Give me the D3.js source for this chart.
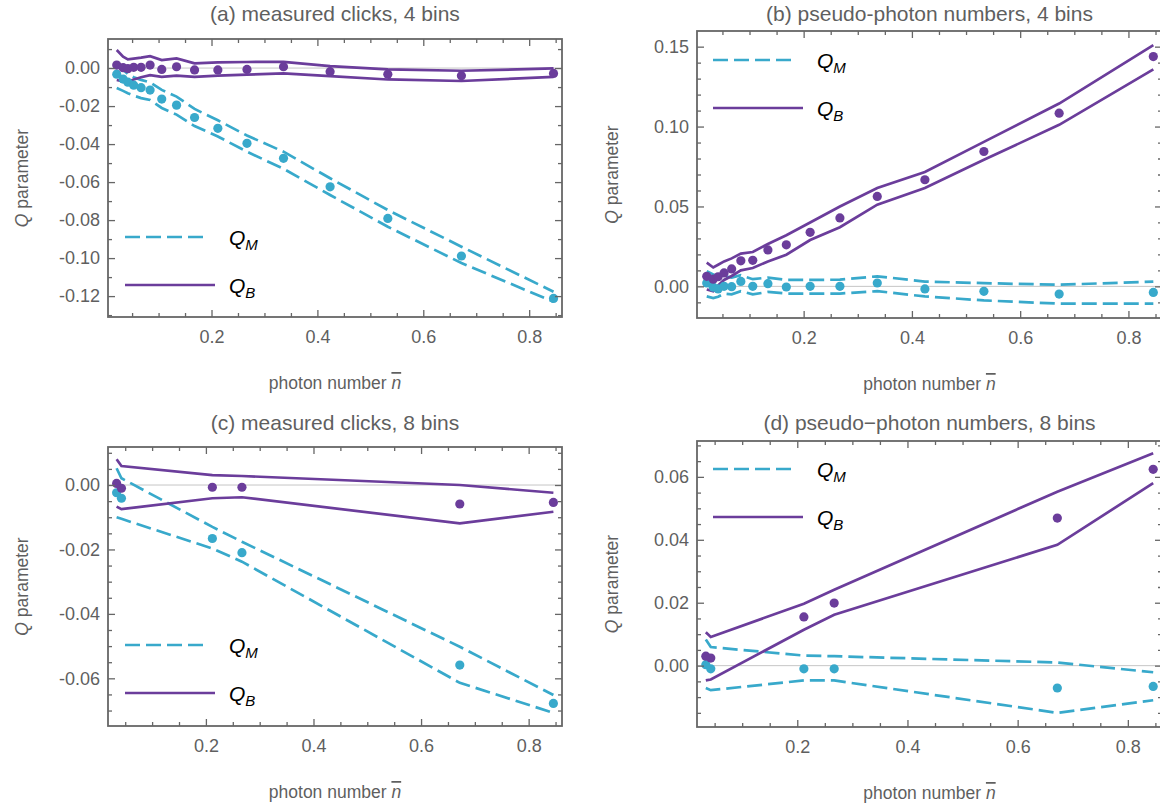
<!DOCTYPE html>
<html>
<head>
<meta charset="utf-8">
<script src="https://cdn.jsdelivr.net/npm/d3@7"></script>
<style>
body { margin: 0; background: #fff; }
svg { display: block; font-family: "Liberation Sans", Arial, sans-serif; }
</style>
</head>
<body>
<div id="chart-area"></div>
<script>
// mean photon numbers of the data sets
const xs4 = [0.021, 0.033, 0.042, 0.053, 0.067, 0.084, 0.106, 0.134, 0.168, 0.212, 0.267, 0.336, 0.424, 0.533, 0.672, 0.846];
const xs8 = [0.034, 0.043, 0.212, 0.267, 0.672, 0.846];

// (a) measured clicks, 4 bins
const qmA   = [-0.0032, -0.0058, -0.0074, -0.0090, -0.0103, -0.0116, -0.0163, -0.0195, -0.0260, -0.0317, -0.0396, -0.0475, -0.0625, -0.0791, -0.0989, -0.1212];
const qmAHi = [0.0025, -0.0010, -0.0030, -0.0048, -0.0062, -0.0075, -0.0115, -0.0150, -0.0215, -0.0275, -0.0355, -0.0440, -0.0580, -0.0747, -0.0940, -0.1177];
const qmALo = [-0.0105, -0.0120, -0.0132, -0.0145, -0.0158, -0.0168, -0.0210, -0.0245, -0.0305, -0.0360, -0.0440, -0.0530, -0.0668, -0.0835, -0.1026, -0.1230];
const qbA   = [0.0016, 0.0002, -0.0003, 0.0004, 0.0004, 0.0016, -0.0007, 0.0007, -0.0010, -0.0010, -0.0007, 0.0007, -0.0019, -0.0032, -0.0040, -0.0028];
const qbAHi = [0.0095, 0.0060, 0.0046, 0.0050, 0.0055, 0.0063, 0.0042, 0.0051, 0.0025, 0.0030, 0.0032, 0.0033, 0.0010, -0.0007, -0.0014, -0.0002];
const qbALo = [-0.0063, -0.0070, -0.0072, -0.0060, -0.0048, -0.0037, -0.0046, -0.0040, -0.0046, -0.0040, -0.0035, -0.0028, -0.0042, -0.0060, -0.0068, -0.0046];

// (b) pseudo-photon numbers, 4 bins
const qmB   = [0.0021, -0.0005, -0.0016, 0.0000, -0.0002, 0.0031, 0.0000, 0.0017, -0.0004, 0.0000, 0.0000, 0.0021, -0.0016, -0.0031, -0.0048, -0.0038];
const qmBHi = [0.0094, 0.0075, 0.0060, 0.0063, 0.0055, 0.0070, 0.0045, 0.0055, 0.0040, 0.0040, 0.0042, 0.0063, 0.0030, 0.0020, 0.0010, 0.0030];
const qmBLo = [-0.0063, -0.0073, -0.0065, -0.0045, -0.0050, -0.0030, -0.0050, -0.0035, -0.0045, -0.0045, -0.0045, -0.0030, -0.0063, -0.0088, -0.0108, -0.0108];
const qbB   = [0.0063, 0.0045, 0.0060, 0.0084, 0.0109, 0.0160, 0.0163, 0.0228, 0.0260, 0.0338, 0.0428, 0.0563, 0.0667, 0.0844, 0.1084, 0.1438];
const qbBHi = [0.0148, 0.0118, 0.0135, 0.0156, 0.0175, 0.0205, 0.0215, 0.0265, 0.0320, 0.0400, 0.0500, 0.0615, 0.0716, 0.0904, 0.1144, 0.1510];
const qbBLo = [-0.0020, -0.0030, 0.0005, 0.0040, 0.0065, 0.0100, 0.0115, 0.0156, 0.0198, 0.0290, 0.0370, 0.0511, 0.0615, 0.0792, 0.1011, 0.1358];

// (c) measured clicks, 8 bins
const qmC   = [-0.0024, -0.0041, -0.0166, -0.0210, -0.0559, -0.0678];
const qmCHi = [0.0052, 0.0021, -0.0130, -0.0176, -0.0502, -0.0652];
const qmCLo = [-0.0100, -0.0105, -0.0197, -0.0238, -0.0614, -0.0707];
const qbC   = [0.0005, -0.0010, -0.0007, -0.0007, -0.0059, -0.0054];
const qbCHi = [0.0080, 0.0059, 0.0031, 0.0028, 0.0000, -0.0024];
const qbCLo = [-0.0067, -0.0075, -0.0041, -0.0038, -0.0119, -0.0083];

// (d) pseudo-photon numbers, 8 bins
const qmD   = [0.0003, -0.0010, -0.0010, -0.0010, -0.0071, -0.0066];
const qmDHi = [0.0083, 0.0059, 0.0032, 0.0030, 0.0010, -0.0021];
const qmDLo = [-0.0071, -0.0078, -0.0047, -0.0047, -0.0150, -0.0110];
const qbD   = [0.0030, 0.0024, 0.0155, 0.0199, 0.0469, 0.0624];
const qbDHi = [0.0106, 0.0091, 0.0197, 0.0241, 0.0553, 0.0675];
const qbDLo = [-0.0047, -0.0044, 0.0114, 0.0162, 0.0384, 0.0580];

const titles = ["(a) measured clicks, 4 bins", "(b) pseudo-photon numbers, 4 bins",
                "(c) measured clicks, 8 bins", "(d) pseudo\u2212photon numbers, 8 bins"];
const xTicks = [0.2, 0.4, 0.6, 0.8];
const yTicksA = [-0.12, -0.10, -0.08, -0.06, -0.04, -0.02, 0.00];
const yTicksB = [0.00, 0.05, 0.10, 0.15];
const yTicksC = [-0.06, -0.04, -0.02, 0.00];
const yTicksD = [0.00, 0.02, 0.04, 0.06];

const cyan = "#38a9cb";
const purple = "#6b3d9b";
const grey = "#5f5f5f";
const frameGrey = "#666";

const svg = d3.select("#chart-area")
	.append("svg")
	.attr("width", 1160)
	.attr("height", 806);

svg.append("rect").attr("width", 1160).attr("height", 806).attr("fill", "#fff");

const panels = [
	{ id: "a", title: titles[0], box: { left: 108, right: 562, top: 39, bottom: 317 }, titleY: 21,
	  xDom: [0.0045, 0.862], yDom: [-0.131, 0.0153], yTicks: yTicksA, yMinor: 0.01,
	  xs: xs4, qm: qmA, qmHi: qmAHi, qmLo: qmALo, qb: qbA, qbHi: qbAHi, qbLo: qbALo,
	  legend: { x: 125, y: 237 }, yLabelX: 28 },
	{ id: "b", title: titles[1], box: { left: 697, right: 1162, top: 31, bottom: 318 }, titleY: 21,
	  xDom: [0.003, 0.862], yDom: [-0.0198, 0.1598], yTicks: yTicksB, yMinor: 0.01,
	  xs: xs4, qm: qmB, qmHi: qmBHi, qmLo: qmBLo, qb: qbB, qbHi: qbBHi, qbLo: qbBLo,
	  legend: { x: 713, y: 60 }, yLabelX: 618 },
	{ id: "c", title: titles[2], box: { left: 108, right: 562, top: 447, bottom: 726 }, titleY: 430,
	  xDom: [0.018, 0.862], yDom: [-0.0748, 0.0118], yTicks: yTicksC, yMinor: 0.005,
	  xs: xs8, qm: qmC, qmHi: qmCHi, qmLo: qmCLo, qb: qbC, qbHi: qbCHi, qbLo: qbCLo,
	  legend: { x: 125, y: 645 }, yLabelX: 28 },
	{ id: "d", title: titles[3], box: { left: 697, right: 1162, top: 441, bottom: 727 }, titleY: 430,
	  xDom: [0.018, 0.862], yDom: [-0.0195, 0.0714], yTicks: yTicksD, yMinor: 0.005,
	  xs: xs8, qm: qmD, qmHi: qmDHi, qmLo: qmDLo, qb: qbD, qbHi: qbDHi, qbLo: qbDLo,
	  legend: { x: 713, y: 469 }, yLabelX: 618 }
];

const yFmt = d => d3.format(".2f")(d).replace("\u2212", "-");

function minorTicks(dom, step, majors) {
	const out = [];
	for (let k = Math.ceil(dom[0] / step); k <= Math.floor(dom[1] / step); k++) {
		const v = +(k * step).toFixed(4);
		if (!majors.some(m => Math.abs(m - v) < 1e-9)) out.push(v);
	}
	return out;
}

function styleAxis(sel) {
	sel.select(".domain").remove();
	sel.selectAll(".tick line")
		.attr("stroke", frameGrey)
		.attr("stroke-width", 1.3);
	sel.selectAll(".tick text")
		.attr("fill", grey)
		.attr("font-size", "18px")
		.attr("font-family", "Liberation Sans, Arial, sans-serif");
}

panels.forEach(p => {
	const { left, right, top, bottom } = p.box;
	const x = d3.scaleLinear().domain(p.xDom).range([left, right]);
	const y = d3.scaleLinear().domain(p.yDom).range([bottom, top]);
	const g = svg.append("g").attr("class", "panel-" + p.id);

	svg.append("clipPath").attr("id", "clip-" + p.id)
		.append("rect")
		.attr("x", left).attr("y", top)
		.attr("width", right - left).attr("height", bottom - top);

	// zero axis line
	g.append("line")
		.attr("x1", left).attr("x2", right)
		.attr("y1", y(0)).attr("y2", y(0))
		.attr("stroke", "#c6c6c6")
		.attr("stroke-width", 1);

	const plot = g.append("g").attr("clip-path", `url(#clip-${p.id})`);
	const line = d3.line().x((d, i) => x(p.xs[i])).y(d => y(d));

	[p.qmHi, p.qmLo].forEach(arr => {
		plot.append("path")
			.attr("d", line(arr))
			.attr("fill", "none")
			.attr("stroke", cyan)
			.attr("stroke-width", 2.7)
			.attr("stroke-dasharray", "15,6");
	});
	[p.qbHi, p.qbLo].forEach(arr => {
		plot.append("path")
			.attr("d", line(arr))
			.attr("fill", "none")
			.attr("stroke", purple)
			.attr("stroke-width", 2.7);
	});

	plot.selectAll(".dot-m").data(p.qm).enter()
		.append("circle")
		.attr("cx", (d, i) => x(p.xs[i]))
		.attr("cy", d => y(d))
		.attr("r", 4.6)
		.attr("fill", cyan);
	plot.selectAll(".dot-b").data(p.qb).enter()
		.append("circle")
		.attr("cx", (d, i) => x(p.xs[i]))
		.attr("cy", d => y(d))
		.attr("r", 4.6)
		.attr("fill", purple);

	// frame ticks
	const xMinor = minorTicks(p.xDom, 0.05, xTicks);
	const yMinor = minorTicks(p.yDom, p.yMinor, p.yTicks);

	g.append("g").attr("transform", `translate(0,${bottom})`)
		.call(d3.axisBottom(x).tickValues(xTicks).tickSize(-7).tickPadding(13).tickFormat(d3.format(".1f")))
		.call(styleAxis);
	g.append("g").attr("transform", `translate(0,${bottom})`)
		.call(d3.axisBottom(x).tickValues(xMinor).tickSize(-4).tickFormat(""))
		.call(styleAxis);
	g.append("g").attr("transform", `translate(0,${top})`)
		.call(d3.axisTop(x).tickValues(xTicks).tickSize(-7).tickFormat(""))
		.call(styleAxis);
	g.append("g").attr("transform", `translate(0,${top})`)
		.call(d3.axisTop(x).tickValues(xMinor).tickSize(-4).tickFormat(""))
		.call(styleAxis);
	g.append("g").attr("transform", `translate(${left},0)`)
		.call(d3.axisLeft(y).tickValues(p.yTicks).tickSize(-7).tickPadding(8).tickFormat(yFmt))
		.call(styleAxis);
	g.append("g").attr("transform", `translate(${left},0)`)
		.call(d3.axisLeft(y).tickValues(yMinor).tickSize(-4).tickFormat(""))
		.call(styleAxis);
	g.append("g").attr("transform", `translate(${right},0)`)
		.call(d3.axisRight(y).tickValues(p.yTicks).tickSize(-7).tickFormat(""))
		.call(styleAxis);
	g.append("g").attr("transform", `translate(${right},0)`)
		.call(d3.axisRight(y).tickValues(yMinor).tickSize(-4).tickFormat(""))
		.call(styleAxis);

	// frame
	g.append("rect")
		.attr("x", left).attr("y", top)
		.attr("width", right - left).attr("height", bottom - top)
		.attr("fill", "none")
		.attr("stroke", frameGrey)
		.attr("stroke-width", 1.8);

	// title
	g.append("text")
		.attr("x", (left + right) / 2)
		.attr("y", p.titleY)
		.attr("text-anchor", "middle")
		.attr("font-size", "21px")
		.attr("fill", grey)
		.text(p.title);

	// x-axis label
	const xl = g.append("text")
		.attr("x", (left + right) / 2)
		.attr("y", bottom + 72)
		.attr("text-anchor", "middle")
		.attr("font-size", "17.5px")
		.attr("fill", grey);
	xl.append("tspan").text("photon number ");
	xl.append("tspan").attr("font-style", "italic")
		.style("text-decoration", "overline")
		.text("n");

	// y-axis label
	const yl = g.append("text")
		.attr("transform", `translate(${p.yLabelX},${(top + bottom) / 2}) rotate(-90)`)
		.attr("text-anchor", "middle")
		.attr("font-size", "17.5px")
		.attr("fill", grey);
	yl.append("tspan").attr("font-style", "italic").text("Q");
	yl.append("tspan").text(" parameter");

	// legend
	const lg = g.append("g").attr("class", "legend");
	const entries = [
		{ color: cyan, dash: "15,6", len: 84, sub: "M", dy: 0 },
		{ color: purple, dash: null, len: 90, sub: "B", dy: 48 }
	];
	entries.forEach(e => {
		lg.append("line")
			.attr("x1", p.legend.x).attr("x2", p.legend.x + e.len)
			.attr("y1", p.legend.y + e.dy).attr("y2", p.legend.y + e.dy)
			.attr("stroke", e.color)
			.attr("stroke-width", 2.7)
			.attr("stroke-dasharray", e.dash);
		const t = lg.append("text")
			.attr("x", p.legend.x + 104)
			.attr("y", p.legend.y + e.dy + 8)
			.attr("font-size", "21px")
			.attr("font-style", "italic")
			.attr("fill", "#000");
		t.append("tspan").text("Q");
		t.append("tspan").attr("font-size", "15px").attr("dy", 5).text(e.sub);
	});
});
</script>
</body>
</html>
